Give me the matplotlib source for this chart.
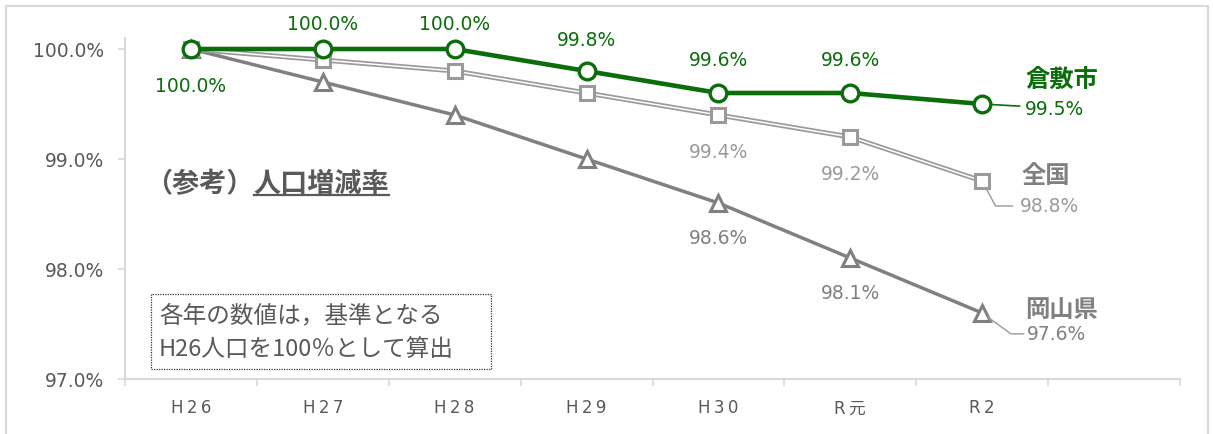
import matplotlib.pyplot as plt
from matplotlib.patches import Rectangle

plt.rcParams["font.family"] = ["DejaVu Sans", "Noto Sans CJK JP"]
CJK = ["Noto Sans CJK JP", "DejaVu Sans"]

# values (% of H26 population)
years = ["H26", "H27", "H28", "H29", "H30", "R元", "R2"]
kurashiki = [100.0, 100.0, 100.0, 99.8, 99.6, 99.6, 99.5]
national = [100.0, 99.9, 99.8, 99.6, 99.4, 99.2, 98.8]
okayama = [100.0, 99.7, 99.4, 99.0, 98.6, 98.1, 97.6]
y_ticks = [97.0, 98.0, 99.0, 100.0]
series_names = ["倉敷市", "全国", "岡山県"]

GREEN = "#0b6e0b"
GRAY_DARK = "#808080"
GRAY_NAT = "#9a9a9a"
TEXT = "#595959"
AXIS = "#d9d9d9"

W, H = 1213, 435
fig = plt.figure(figsize=(W / 100, H / 100), dpi=100)
ax = fig.add_axes([125 / W, 1 - 380 / H, (1180 - 125) / W, (380 - 39) / H])

x = list(range(len(years)))

# Okayama
ax.plot(x, okayama, color=GRAY_DARK, lw=2.5, marker="^", ms=12, mfc="white",
        mec=GRAY_DARK, mew=2.2, zorder=3)
# National: double (compound) line
ax.plot(x, national, color=GRAY_NAT, lw=3.6, zorder=4, solid_capstyle="butt")
ax.plot(x, national, color="white", lw=1.1, zorder=4.1)
ax.plot(x, national, ls="none", marker="s", ms=10, mfc="white", mec=GRAY_NAT,
        mew=2.2, zorder=4.2)
# Kurashiki
ax.plot(x, kurashiki, color=GREEN, lw=3.3, marker="o", ms=12, mfc="white",
        mec=GREEN, mew=2.4, zorder=5)

ax.set_xlim(-0.5, 7.5)
ax.set_ylim(97.0, 100.1)
ax.set_yticks(y_ticks)
ax.set_yticklabels([f"{v:.1f}%" for v in y_ticks])
ax.set_xticks(x)
ax.set_xticklabels(["\u2009".join(y) for y in years])
ax.set_xticks([i - 0.5 for i in range(9)], minor=True)

for s in ["top", "right"]:
    ax.spines[s].set_visible(False)
for s in ["left", "bottom"]:
    ax.spines[s].set_color(AXIS)
    ax.spines[s].set_linewidth(1.5)
ax.tick_params(axis="y", colors=AXIS, labelcolor=TEXT, labelsize=13.5,
               length=5, width=1.2, pad=10)
ax.tick_params(axis="x", which="major", length=0, labelcolor=TEXT,
               labelsize=12, pad=14)
ax.tick_params(axis="x", which="minor", length=5, width=1.2, color=AXIS)

lab_kw = dict(textcoords="offset points", ha="center", va="center", fontsize=13.5)

# Kurashiki labels (index, dy in points)
for i, dy in [(0, -26), (1, 18), (2, 18), (3, 23), (4, 24), (5, 24)]:
    ax.annotate(f"{kurashiki[i]:.1f}%", (x[i], kurashiki[i]), xytext=(0, dy),
                color=GREEN, **lab_kw)
for i in [4, 5]:
    ax.annotate(f"{national[i]:.1f}%", (x[i], national[i]), xytext=(0, -26),
                color=GRAY_NAT, **lab_kw)
    ax.annotate(f"{okayama[i]:.1f}%", (x[i], okayama[i]), xytext=(0, -25),
                color=GRAY_DARK, **lab_kw)

# end labels with leader lines
last = len(years) - 1
end_kw = dict(textcoords="offset points", ha="left", va="center", fontsize=13.5)
ax.annotate(f"{kurashiki[last]:.1f}%", (x[last], kurashiki[last]), xytext=(31, -3),
            color=GREEN, arrowprops=dict(arrowstyle="-", color=GREEN, lw=1.2,
                                         shrinkA=2, shrinkB=6), **end_kw)
ax.annotate(f"{national[last]:.1f}%", (x[last], national[last]), xytext=(27, -18),
            color=GRAY_NAT,
            arrowprops=dict(arrowstyle="-", color=GRAY_NAT, lw=1.0, shrinkA=3, shrinkB=4,
                            connectionstyle="angle,angleA=0,angleB=-62,rad=0"), **end_kw)
ax.annotate(f"{okayama[last]:.1f}%", (x[last], okayama[last]), xytext=(32, -15),
            color=GRAY_DARK,
            arrowprops=dict(arrowstyle="-", color=GRAY_NAT, lw=1.0, shrinkA=0, shrinkB=5,
                            connectionstyle="angle,angleA=0,angleB=-36,rad=0"), **end_kw)

# series names
name_kw = dict(textcoords="offset points", ha="center", va="center",
               fontsize=17.5, fontweight="bold", family=CJK)
ax.annotate(series_names[0], (x[last], kurashiki[last]), xytext=(57, 18),
            color=GREEN, **name_kw)
ax.annotate(series_names[1], (x[last], national[last]), xytext=(46, 4),
            color=GRAY_DARK, **name_kw)
ax.annotate(series_names[2], (x[last], okayama[last]), xytext=(57, 3),
            color=GRAY_DARK, **name_kw)

# title with underline on the main part
fig.canvas.draw()
r = fig.canvas.get_renderer()
t1 = fig.text(145 / W, 1 - 184 / H, "（参考）", fontsize=19.5, fontweight="bold",
              color=TEXT, ha="left", va="center", family=CJK)
bb1 = t1.get_window_extent(r)
t2 = fig.text(bb1.x1 / W, 1 - 184 / H, "人口増減率", fontsize=19.5, fontweight="bold",
              color=TEXT, ha="left", va="center", family=CJK)
bb2 = t2.get_window_extent(r)
uy = 1 - 196 / H
fig.add_artist(plt.Line2D([bb2.x0 / W, bb2.x1 / W], [uy, uy], color=TEXT, lw=1.6))

# note box
fig.patches.append(Rectangle((151 / W, 1 - 370 / H), 340 / W, 75 / H,
                             transform=fig.transFigure, fill=False, ec="#333333",
                             lw=0.9, ls=(0, (1, 1))))
fig.text(159 / W, 1 - 316 / H, "各年の数値は，基準となる", fontsize=17,
         color=TEXT, ha="left", va="center", family=CJK)
fig.text(159 / W, 1 - 350 / H, "H26人口を100％として算出", fontsize=17,
         color=TEXT, ha="left", va="center", family=CJK)

# outer chart border
fig.patches.append(Rectangle((6 / W, -0.1), (1208 - 6) / W, 1.1 - 7 / H,
                             transform=fig.transFigure, fill=False, ec=AXIS, lw=1.5))

fig.savefig("out.png", dpi=100)
